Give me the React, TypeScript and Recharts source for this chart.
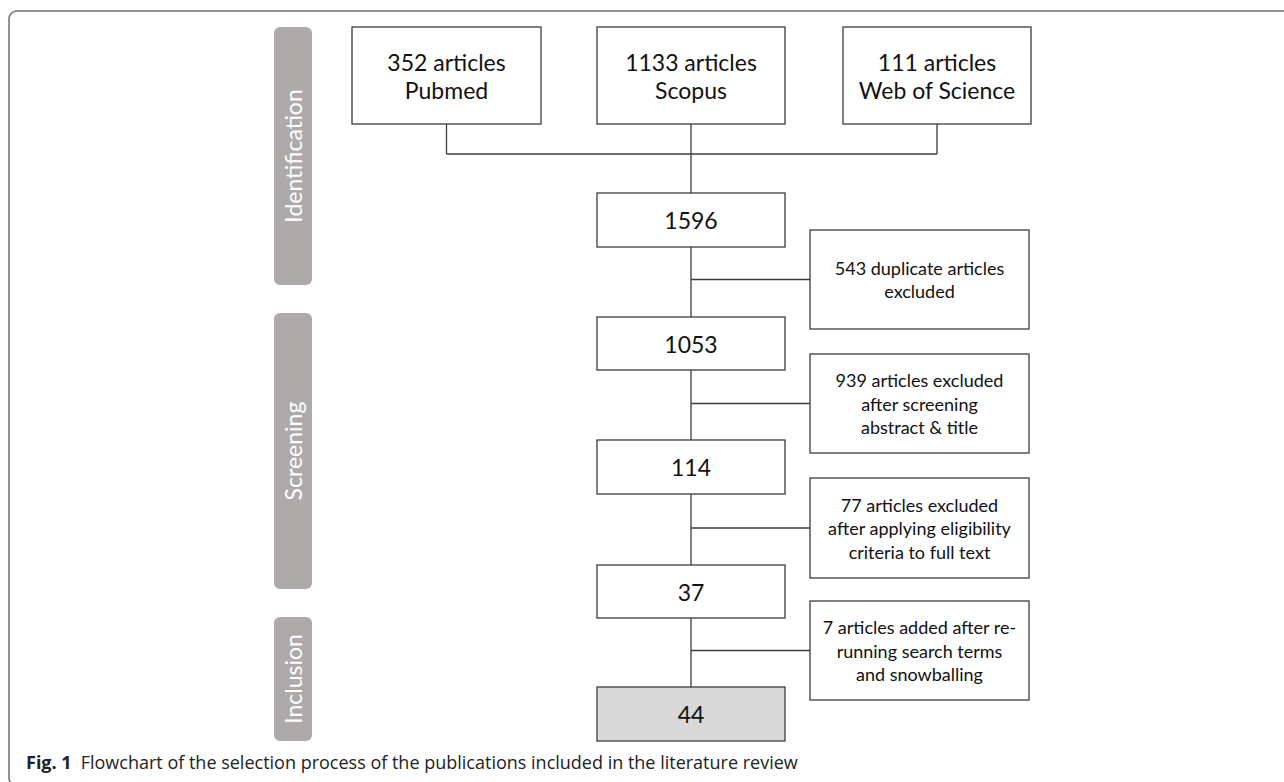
import React from "react"
import { ComposedChart, XAxis, YAxis, ReferenceArea, ReferenceLine } from "recharts"

// data
const sources = ["Pubmed", "Scopus", "Web of Science"]
const sourceCounts = [352, 1133, 111]
const stages = ["Identification", "Screening", "Inclusion"]
const flowCounts = [1596, 1053, 114, 37, 44]
const sideNotes = [
  ["543 duplicate articles", "excluded"],
  ["939 articles excluded", "after screening", "abstract & title"],
  ["77 articles excluded", "after applying eligibility", "criteria to full text"],
  ["7 articles added after re-", "running search terms", "and snowballing"],
]
const captionLabel = "Fig. 1"
const captionText = "Flowchart of the selection process of the publications included in the literature review"

// layout (chart coordinates = pixels)
const W = 1284
const H = 782
const sourceX = [[352, 541], [597, 785], [843, 1031]]
const sourceY = [27, 124]
const mainX = [597, 785]
const mainY = [[193, 247], [317, 370], [440, 494], [565, 618], [687, 741]]
const noteX = [810, 1029]
const noteY = [[230, 329], [354, 453], [478, 578], [601, 700]]
const bracketY = 154
const stageX = [274, 312]
const stageY = [[27, 285], [313, 589], [617, 741]]

const INK = "#3c3c3c"
const FONT = "Lato, 'Open Sans', sans-serif"

const boxShape = (lines: string[], size: number, lh: number, fill = "#ffffff") => (p: any) => {
  const cx = p.x + p.width / 2
  const cy = p.y + p.height / 2
  const start = cy - ((lines.length - 1) * lh) / 2
  return (
    <g>
      <rect x={p.x} y={p.y} width={p.width} height={p.height} fill={fill} stroke={INK} strokeWidth={1.3} />
      <text textAnchor="middle" fontFamily={FONT} fontSize={size} fill="#111">
        {lines.map((l, i) => (
          <tspan key={i} x={cx} y={start + i * lh} dominantBaseline="central">
            {l}
          </tspan>
        ))}
      </text>
    </g>
  )
}

const stageShape = (name: string) => (p: any) => {
  const cx = p.x + p.width / 2
  const cy = p.y + p.height / 2
  return (
    <g>
      <rect x={p.x} y={p.y} width={p.width} height={p.height} rx={6} fill="#aeaaaa" />
      <text
        x={cx}
        y={cy}
        transform={`rotate(-90 ${cx} ${cy})`}
        textAnchor="middle"
        dominantBaseline="central"
        fontFamily={FONT}
        fontSize={23}
        fill="#ffffff"
      >
        {name}
      </text>
    </g>
  )
}

const frameShape = (p: any) => {
  const x = p.x
  const y = p.y
  const r = 8
  return (
    <path
      d={`M ${W} ${y} H ${x + r} A ${r} ${r} 0 0 0 ${x} ${y + r} V ${H - 4} A ${r} ${r} 0 0 0 ${x + r} ${H + 4}`}
      fill="none"
      stroke="#707070"
      strokeWidth={1.5}
    />
  )
}

const captionShape = (p: any) => (
  <text x={p.x} y={p.y + p.height} fontFamily="'Open Sans', sans-serif" fontSize={18} fill="#222">
    <tspan fontWeight={700}>{captionLabel}</tspan>
    <tspan dx={9}>{captionText}</tspan>
  </text>
)

const seg = (x1: number, y1: number, x2: number, y2: number, k: string) => (
  <ReferenceLine
    key={k}
    segment={[{ x: x1, y: y1 }, { x: x2, y: y2 }]}
    stroke={INK}
    strokeWidth={1.3}
    ifOverflow="visible"
  />
)

export default function App() {
  const mid = (r: number[]) => (r[0] + r[1]) / 2
  const mainCx = mid(mainX)
  const lines: React.ReactNode[] = []
  sourceX.forEach((r, i) => lines.push(seg(mid(r), sourceY[1], mid(r), bracketY, `s${i}`)))
  lines.push(seg(mid(sourceX[0]), bracketY, mid(sourceX[2]), bracketY, "br"))
  lines.push(seg(mainCx, bracketY, mainCx, mainY[0][0], "m0"))
  for (let i = 0; i < mainY.length - 1; i++) {
    lines.push(seg(mainCx, mainY[i][1], mainCx, mainY[i + 1][0], `m${i + 1}`))
  }
  noteY.forEach((r, i) => lines.push(seg(mainCx, mid(r), noteX[0], mid(r), `n${i}`)))

  return (
    <div style={{ position: "absolute", left: 0, top: 0, width: W, height: H, background: "#fff" }}>
      <ComposedChart width={W} height={H} margin={{ top: 0, right: 0, bottom: 0, left: 0 }} data={[]}>
        <XAxis type="number" dataKey="x" domain={[0, W]} hide allowDataOverflow />
        <YAxis type="number" dataKey="y" domain={[0, H]} reversed hide allowDataOverflow />
        <ReferenceArea x1={9} x2={W} y1={11} y2={H} ifOverflow="visible" shape={frameShape} />
        {stages.map((s, i) => (
          <ReferenceArea key={s} x1={stageX[0]} x2={stageX[1]} y1={stageY[i][0]} y2={stageY[i][1]} shape={stageShape(s)} />
        ))}
        {lines}
        {sources.map((s, i) => (
          <ReferenceArea
            key={s}
            x1={sourceX[i][0]}
            x2={sourceX[i][1]}
            y1={sourceY[0]}
            y2={sourceY[1]}
            shape={boxShape([`${sourceCounts[i]} articles`, s], 23, 28)}
          />
        ))}
        {flowCounts.map((c, i) => (
          <ReferenceArea
            key={`f${i}`}
            x1={mainX[0]}
            x2={mainX[1]}
            y1={mainY[i][0]}
            y2={mainY[i][1]}
            shape={boxShape([String(c)], 23, 28, i === flowCounts.length - 1 ? "#d9d9d9" : "#ffffff")}
          />
        ))}
        {sideNotes.map((n, i) => (
          <ReferenceArea
            key={`n${i}`}
            x1={noteX[0]}
            x2={noteX[1]}
            y1={noteY[i][0]}
            y2={noteY[i][1]}
            shape={boxShape(n, 18, 23.5)}
          />
        ))}
        <ReferenceArea x1={26} x2={816} y1={750} y2={769} ifOverflow="visible" shape={captionShape} />
      </ComposedChart>
    </div>
  )
}
